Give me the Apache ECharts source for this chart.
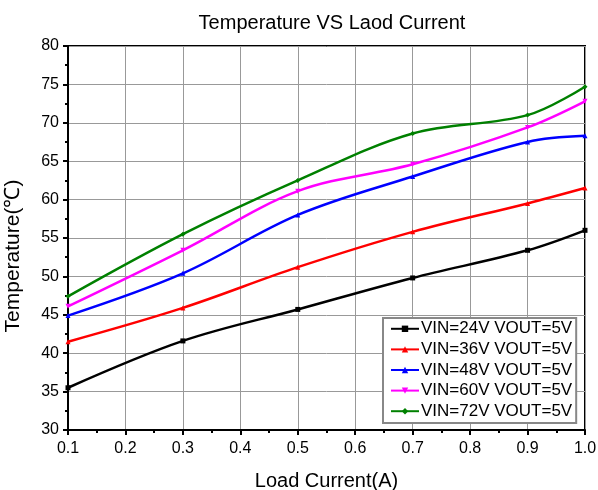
<!DOCTYPE html>
<html><head><meta charset="utf-8">
<script src="https://cdn.jsdelivr.net/npm/echarts@6/dist/echarts.min.js"></script>
<style>html,body{margin:0;padding:0;background:#fff}#c{width:598px;height:490px}</style>
</head><body><div id="c"></div>
<script>
const loadCurrent = [0.1, 0.3, 0.5, 0.7, 0.9, 1.0];
const vin24 = [35.5, 41.6, 45.7, 49.8, 53.4, 56.0];
const vin36 = [41.5, 45.9, 51.2, 55.8, 59.5, 61.5];
const vin48 = [44.9, 50.4, 58.0, 63.0, 67.5, 68.3];
const vin60 = [46.1, 53.4, 61.1, 64.6, 69.4, 72.8];
const vin72 = [47.4, 55.5, 62.5, 68.6, 71.0, 74.7];
const seriesNames = ['VIN=24V VOUT=5V','VIN=36V VOUT=5V','VIN=48V VOUT=5V','VIN=60V VOUT=5V','VIN=72V VOUT=5V'];
const seriesColors = ['#000000','#ff0000','#0000ff','#ff00ff','#008000'];
const seriesSymbols = ['rect','triangle','triangle','path://M0,0 L10,0 L5,10 Z','diamond'];
const allValues = [vin24, vin36, vin48, vin60, vin72];

const chart = echarts.init(document.getElementById('c'), null, {renderer:'canvas'});
const font = 'Arial, "Liberation Sans", sans-serif';
chart.setOption({
  animation:false,
  backgroundColor:'#fff',
  title:{text:'Temperature VS Laod Current', left:327, textAlign:'center', top:8,
    textStyle:{fontFamily:font, fontSize:20, fontWeight:'normal', color:'#000'}},
  grid:{left:68, right:13, top:46, bottom:60, show:true, borderColor:'#000', borderWidth:2,
    backgroundColor:'#fff', containLabel:false, outerBoundsMode:'none'},
  legend:{orient:'vertical', left:383, top:318, width:194, itemWidth:28, itemHeight:8, itemGap:1,
    padding:[1,4,2,7], borderColor:'#888', borderWidth:2, backgroundColor:'#fff',
    textStyle:{fontFamily:font, fontSize:17, lineHeight:19.6, color:'#000', padding:[0,0,0,-3]},
    data:seriesNames},
  xAxis:{type:'value', min:0.1, max:1.0, interval:0.1,
    name:'Load Current(A)', nameLocation:'middle', nameGap:41,
    nameTextStyle:{fontFamily:font, fontSize:20, color:'#000'},
    axisLine:{show:true, onZero:false, lineStyle:{color:'#000', width:2}},
    axisTick:{show:true, inside:false, length:5, lineStyle:{color:'#000', width:2}},
    minorTick:{show:true, splitNumber:2, length:3, lineStyle:{color:'#000', width:2}},
    axisLabel:{fontFamily:font, fontSize:16, color:'#000', margin:11, formatter:v=>v.toFixed(1)},
    splitLine:{show:true, lineStyle:{color:'#999', width:1}}},
  yAxis:{type:'value', min:30, max:80, interval:5,
    name:'Temperature(℃)', nameLocation:'middle', nameGap:44,
    nameTextStyle:{fontFamily:font, fontSize:21, color:'#000', padding:[0,36,0,0]},
    axisLine:{show:true, onZero:false, lineStyle:{color:'#000', width:2}},
    axisTick:{show:true, inside:false, length:5, lineStyle:{color:'#000', width:2}},
    minorTick:{show:true, splitNumber:2, length:3, lineStyle:{color:'#000', width:2}},
    axisLabel:{fontFamily:font, fontSize:16, color:'#000', margin:9},
    splitLine:{show:true, lineStyle:{color:'#999', width:1}}},
  series: allValues.map((vals,i)=>({
    name:seriesNames[i], type:'line', smooth:0.35,
    data:loadCurrent.map((x,j)=>[x, vals[j]]),
    symbol:seriesSymbols[i], symbolSize:5, showSymbol:true,
    itemStyle:{color:seriesColors[i]},
    lineStyle:{color:seriesColors[i], width:2.5}
  }))
});
</script></body></html>
